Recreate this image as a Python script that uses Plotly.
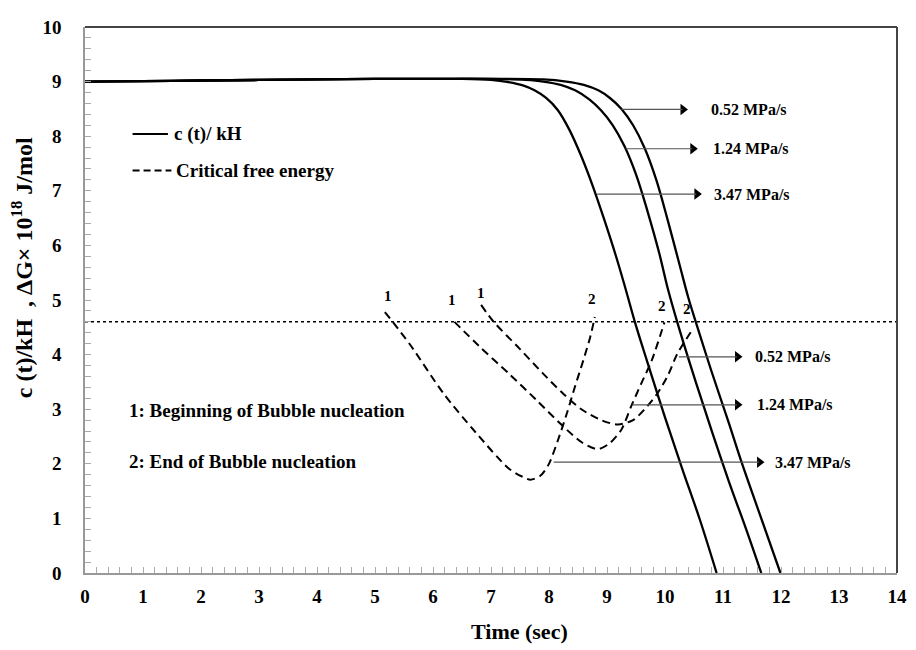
import plotly.graph_objects as go

# ---- data: c(t)/kH curves (solid) ----
t_347 = [0, 1, 2, 3, 4, 5, 6, 6.5, 7.0, 7.3, 7.55, 7.75, 7.95, 8.15, 8.35, 8.55, 8.75, 8.95, 9.15, 9.3, 9.48, 9.7, 10.0, 10.3, 10.6, 10.89]
c_347 = [9.0, 9.01, 9.02, 9.03, 9.04, 9.05, 9.05, 9.05, 9.03, 8.99, 8.93, 8.84, 8.7, 8.48, 8.12, 7.65, 7.1, 6.48, 5.82, 5.28, 4.6, 3.85, 2.85, 1.9, 0.98, 0.0]

t_124 = [0, 1, 2, 3, 4, 5, 6, 7, 7.6, 7.9, 8.2, 8.45, 8.7, 8.9, 9.1, 9.3, 9.5, 9.7, 9.9, 10.05, 10.21, 10.5, 10.8, 11.1, 11.4, 11.66]
c_124 = [9.0, 9.01, 9.02, 9.03, 9.04, 9.05, 9.05, 9.05, 9.03, 9.0, 8.94, 8.84, 8.67, 8.47, 8.2, 7.82, 7.3, 6.62, 5.86, 5.2, 4.6, 3.6, 2.62, 1.68, 0.8, 0.0]

t_052 = [0, 1, 2, 3, 4, 5, 6, 7, 7.9, 8.3, 8.6, 8.85, 9.05, 9.25, 9.45, 9.65, 9.85, 10.05, 10.25, 10.4, 10.53, 10.8, 11.1, 11.32, 11.6, 11.99]
c_052 = [9.0, 9.01, 9.02, 9.03, 9.04, 9.05, 9.05, 9.05, 9.04, 9.0, 8.94, 8.84, 8.7, 8.5, 8.2, 7.78, 7.2, 6.45, 5.65, 5.05, 4.6, 3.7, 2.75, 2.03, 1.18, 0.0]

# ---- data: critical free energy curves (dashed) ----
tg_347 = [5.17, 5.6, 6.18, 6.74, 7.31, 7.55, 7.68, 7.85, 7.99, 8.16, 8.31, 8.45, 8.59, 8.71, 8.79]
g_347 = [4.78, 4.19, 3.29, 2.57, 1.91, 1.76, 1.71, 1.78, 1.98, 2.45, 2.93, 3.42, 3.89, 4.32, 4.69]

tg_124 = [6.37, 6.8, 7.31, 7.8, 8.23, 8.57, 8.84, 9.05, 9.25, 9.42, 9.59, 9.77, 9.99]
g_124 = [4.6, 4.15, 3.65, 3.15, 2.7, 2.39, 2.27, 2.38, 2.63, 3.06, 3.47, 3.89, 4.59]

tg_052 = [6.83, 7.03, 7.5, 7.89, 8.25, 8.57, 8.9, 9.19, 9.45, 9.65, 9.87, 10.05, 10.21, 10.45]
g_052 = [4.91, 4.62, 4.1, 3.66, 3.28, 2.99, 2.8, 2.72, 2.8, 3.0, 3.29, 3.62, 4.01, 4.42]

# threshold (dotted)
thr_t = [0, 14]
thr_v = [4.6, 4.6]

rates = ["0.52 MPa/s", "1.24 MPa/s", "3.47 MPa/s"]
x_ticks = list(range(0, 15))
y_ticks = list(range(0, 11))

FONT = "Liberation Serif"
bold = dict(family=FONT, color="black", weight="bold")

fig = go.Figure()
for tt, cc in [(t_052, c_052), (t_124, c_124), (t_347, c_347)]:
    fig.add_trace(go.Scatter(x=tt, y=cc, mode="lines", showlegend=False,
                             line=dict(color="black", width=2.3, shape="spline", smoothing=1.0)))
for tt, gg in [(tg_052, g_052), (tg_124, g_124), (tg_347, g_347)]:
    fig.add_trace(go.Scatter(x=tt, y=gg, mode="lines", showlegend=False,
                             line=dict(color="black", width=2, dash="8px,5px", shape="spline", smoothing=0.8)))
fig.add_trace(go.Scatter(x=thr_t, y=thr_v, mode="lines", showlegend=False,
                         line=dict(color="black", width=1.5, dash="dot")))

ann = []
# legend (manual)
fig.add_shape(type="line", x0=0.82, x1=1.43, y0=8.04, y1=8.04, line=dict(color="black", width=2))
fig.add_shape(type="line", x0=0.82, x1=1.49, y0=7.37, y1=7.37, line=dict(color="black", width=2, dash="7px,4px"))
ann.append(dict(x=1.50, y=8.04, text="c (t)/ kH", xanchor="left", yanchor="middle", showarrow=False,
                font=dict(size=19, **bold)))
ann.append(dict(x=1.53, y=7.37, text="Critical free energy", xanchor="left", yanchor="middle", showarrow=False,
                font=dict(size=19, **bold)))
ann.append(dict(x=0.72, y=2.97, text="1: Beginning of Bubble nucleation", xanchor="left", yanchor="middle",
                showarrow=False, font=dict(size=19, **bold)))
ann.append(dict(x=0.72, y=2.05, text="2: End of Bubble nucleation", xanchor="left", yanchor="middle",
                showarrow=False, font=dict(size=19, **bold)))

# 1 / 2 markers
for xx, yy, tx in [(5.22, 5.07, "1"), (6.32, 5.0, "1"), (6.83, 5.12, "1"),
                   (8.74, 5.02, "2"), (9.94, 4.89, "2"), (10.38, 4.84, "2")]:
    ann.append(dict(x=xx, y=yy, text=tx, showarrow=False, font=dict(size=15, **bold)))

# arrows + rate labels
arrows = [
    (9.25, 10.38, 8.49, 10.76, rates[0]),
    (9.32, 10.55, 7.77, 10.79, rates[1]),
    (8.83, 10.62, 6.94, 10.81, rates[2]),
    (10.24, 11.32, 3.96, 11.51, rates[0]),
    (9.44, 11.32, 3.08, 11.56, rates[1]),
    (8.08, 11.70, 2.03, 11.87, rates[2]),
]
head_x, head_y = [], []
for x0, x1, yy, xl, tx in arrows:
    fig.add_shape(type="line", x0=x0, x1=x1 - 0.08, y0=yy, y1=yy, line=dict(color="#555", width=1.2))
    head_x.append(x1 - 0.07)
    head_y.append(yy)
    ann.append(dict(x=xl, y=yy, text=tx, xanchor="left", yanchor="middle", showarrow=False,
                    font=dict(size=16, **bold)))
fig.add_trace(go.Scatter(x=head_x, y=head_y, mode="markers", showlegend=False, hoverinfo="skip",
                         marker=dict(symbol="triangle-right", size=10, color="black")))

# axis titles
ann.append(dict(xref="paper", yref="paper", x=(21 - 85) / 820, y=(573 - 262) / 556,
                text="c (t)/kH  , ΔG× 10<sup>18</sup> J/mol", textangle=-90, showarrow=False,
                xanchor="center", yanchor="middle", font=dict(size=24, **bold)))
ann.append(dict(xref="paper", yref="paper", x=(524 - 85) / 820, y=(573 - 633) / 556,
                text="Time (sec)", showarrow=False, xanchor="center", yanchor="middle",
                font=dict(size=22, **bold)))

# frame top/right
fig.add_shape(type="line", xref="paper", yref="paper", x0=0, x1=1, y0=1, y1=1,
              line=dict(color="#444", width=2))
fig.add_shape(type="line", xref="paper", yref="paper", x0=1, x1=1, y0=0, y1=1,
              line=dict(color="#444", width=2))

axis_common = dict(showgrid=False, zeroline=False, showline=True, linecolor="#999", linewidth=1.5,
                   ticks="inside", ticklen=6, tickcolor="#aaa", tickwidth=1,
                   ticklabeloverflow="allow", tickfont=dict(size=19, **bold))

# page body has an 8px default margin: shrink figure so the plot area lands where the reference has it
fig.update_layout(
    width=908, height=642,
    margin=dict(l=77, r=11, t=9, b=77),
    paper_bgcolor="white", plot_bgcolor="white",
    annotations=ann,
    xaxis=dict(range=[0, 14], tickvals=x_ticks, ticktext=[str(v) for v in x_ticks],
               minor=dict(dtick=0.2, ticks="inside", ticklen=6, tickcolor="#aaa"),
               ticklabelstandoff=5, **axis_common),
    yaxis=dict(range=[0, 10], tickvals=y_ticks, ticktext=[str(v) for v in y_ticks],
               minor=dict(dtick=0.2, ticks="inside", ticklen=6, tickcolor="#aaa"),
               ticklabelstandoff=18, **axis_common),
)

fig.write_html("out.html")
